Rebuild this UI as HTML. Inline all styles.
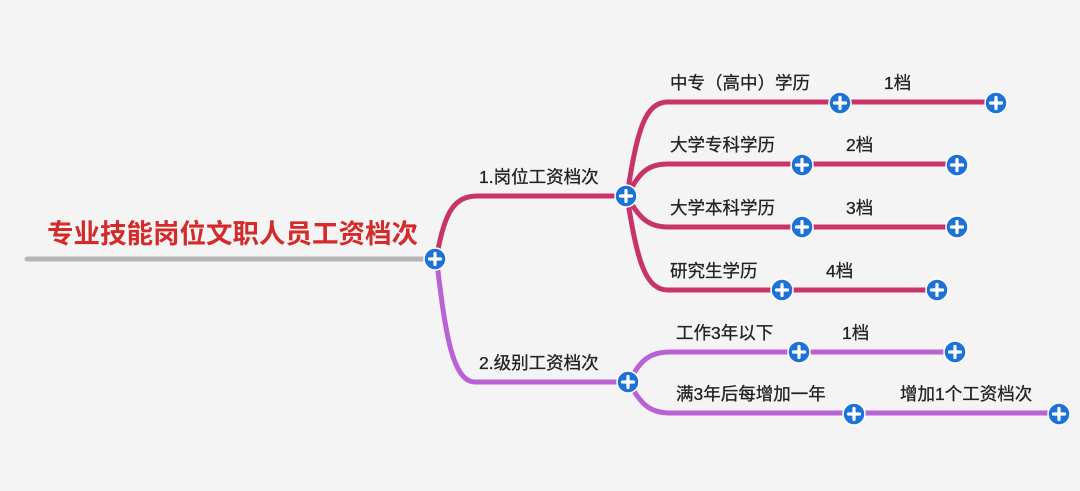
<!DOCTYPE html>
<html><head><meta charset="utf-8"><style>
html,body{margin:0;padding:0;background:#f4f4f4;}
svg{display:block;font-family:"Liberation Sans","Noto Sans CJK SC",sans-serif;}
</style></head><body>
<svg width="1080" height="491" viewBox="0 0 1080 491">
<rect width="1080" height="491" fill="#f4f4f4"/>
<defs>
<g id="p"><circle r="11" fill="#1d72d8" stroke="#fff" stroke-width="1.5"/><path d="M-5.5 0H5.5M0 -5.5V5.5" stroke="#fff" stroke-width="3.2" stroke-linecap="round"/></g>
</defs>
<g fill="none" stroke-width="5" stroke-linecap="round">
<line x1="27" y1="259" x2="435" y2="259" stroke="#b5b5b5"/>
<path d="M437 255 C445 210 455 196 478 196 L626 196" stroke="#c8336a"/>
<path d="M437 263 C445 330 452 382 475 382 L628 382" stroke="#b862d6"/>
<path d="M627 196 C637 130 645 102 668 102 L996 102" stroke="#c8336a"/>
<path d="M627 196 C640 170 650 164 668 164 L957 164" stroke="#c8336a"/>
<path d="M627 196 C640 220 650 227 668 227 L957 227" stroke="#c8336a"/>
<path d="M627 196 C637 260 645 290 668 290 L937 290" stroke="#c8336a"/>
<path d="M629 382 C640 360 650 352 670 352 L955 352" stroke="#b862d6"/>
<path d="M629 382 C640 404 650 413 670 413 L1059 413" stroke="#b862d6"/>
</g>
<g font-size="17.5" fill="#222" stroke="#222" stroke-width="0.3">
<text x="670" y="89">中专（高中）学历</text><text x="884" y="89">1档</text>
<text x="670" y="151">大学专科学历</text><text x="846" y="151">2档</text>
<text x="670" y="214">大学本科学历</text><text x="846" y="214">3档</text>
<text x="670" y="277">研究生学历</text><text x="826" y="277">4档</text>
<text x="676" y="339">工作3年以下</text><text x="842" y="339">1档</text>
<text x="676" y="400">满3年后每增加一年</text><text x="900" y="400">增加1个工资档次</text>
<text x="479" y="183">1.岗位工资档次</text>
<text x="479" y="369">2.级别工资档次</text>
</g>
<text x="47" y="243" font-size="26.5" font-weight="bold" fill="#d42a2a">专业技能岗位文职人员工资档次</text>
<use href="#p" x="435" y="259"/>
<use href="#p" x="626" y="196"/><use href="#p" x="628" y="382"/>
<use href="#p" x="840" y="103"/><use href="#p" x="996" y="103"/>
<use href="#p" x="802" y="165"/><use href="#p" x="957" y="165"/>
<use href="#p" x="802" y="227"/><use href="#p" x="957" y="227"/>
<use href="#p" x="782" y="290"/><use href="#p" x="937" y="290"/>
<use href="#p" x="799" y="352"/><use href="#p" x="955" y="352"/>
<use href="#p" x="854" y="414"/><use href="#p" x="1059" y="414"/>
</svg>
</body></html>
